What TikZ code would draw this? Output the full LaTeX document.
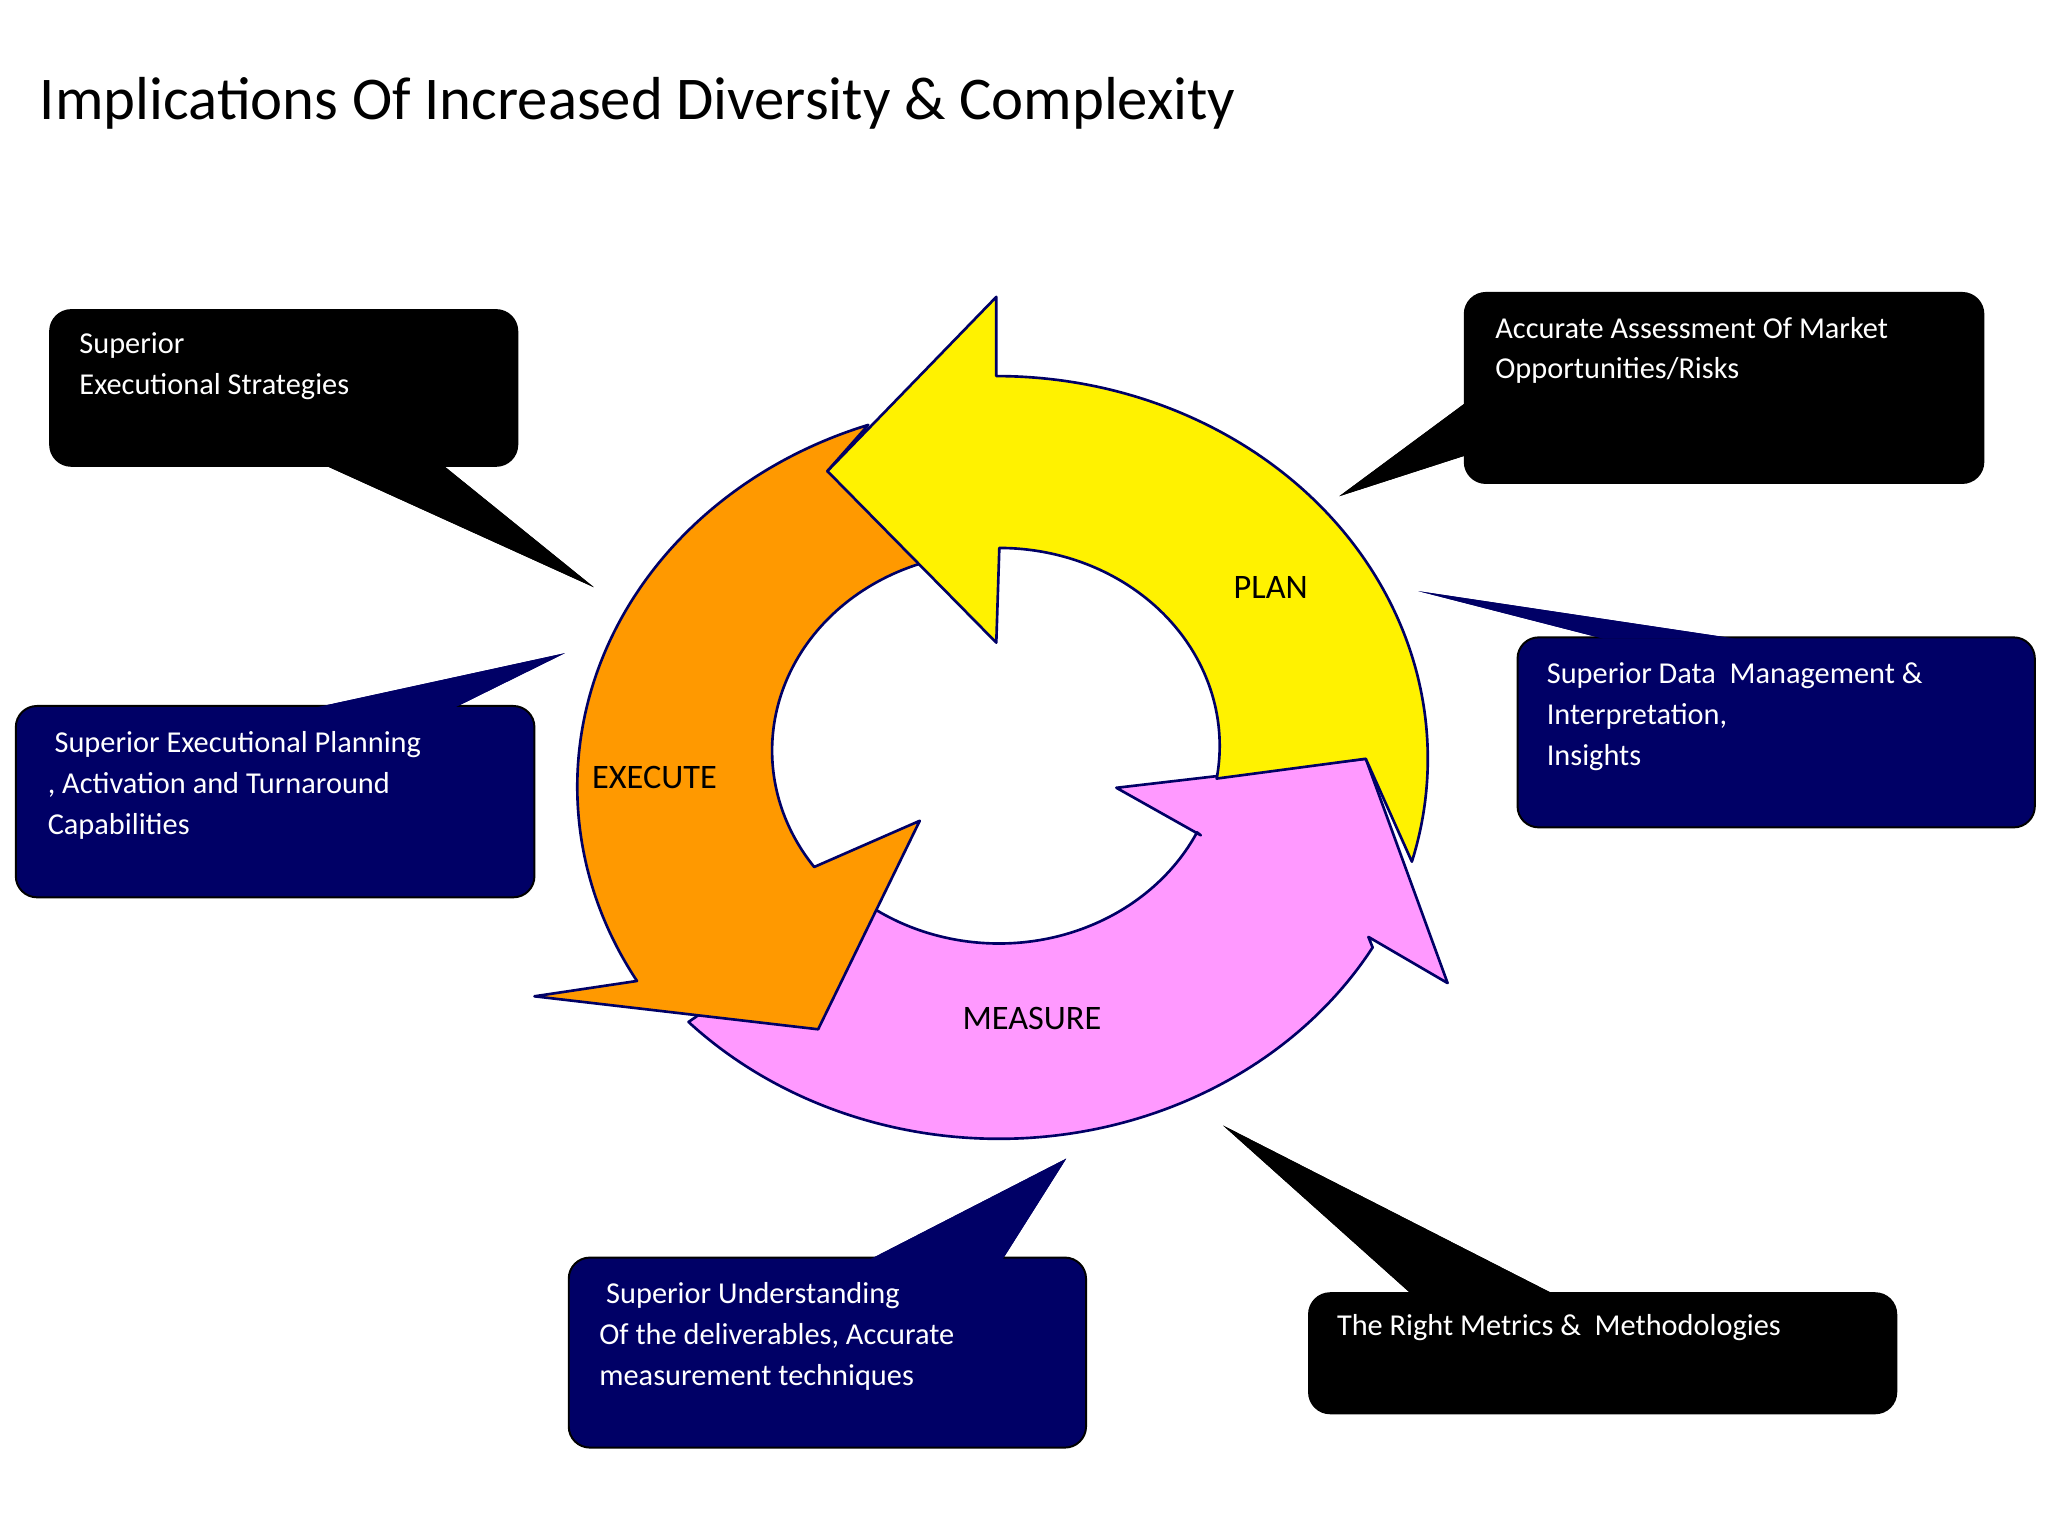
\documentclass[tikz,border=0pt]{standalone}
\usepackage{fontspec}
\setmainfont{Carlito}
\usetikzlibrary{calc}
\begin{document}
\begin{tikzpicture}[x=1pt,y=-1pt,
  arr/.style={draw=blue!40!black, line width=2pt, line join=round},
  txt/.style={text=white, font=\fontsize{23}{31}\selectfont, align=left, anchor=north west, inner sep=0pt},
  lbl/.style={font=\fontsize{26}{30}\selectfont, inner sep=0pt},
  box/.style={rounded corners=16pt, line width=1.5pt},
  blk/.style={fill=black, draw=black},
  nvy/.style={fill=navybox, draw=black}
]
\definecolor{navybox}{HTML}{000066}
\definecolor{plum}{HTML}{FF99FF}
\definecolor{orng}{HTML}{FF9900}
\useasboundingbox (0,0) rectangle (1552,1164);
\fill[white] (0,0) rectangle (1552,1164);

\node[anchor=west, font=\fontsize{46}{50}\selectfont, inner sep=0pt] (title) at (30,78)
  {Implications Of Increased Diversity \& Complexity};

% MEASURE arrow (drawn first, tail under orange)
\draw[arr, fill=plum] (910,633) -- (846,597) -- (1035,575) -- (1097,745) -- (1037,710)
  -- ($(757,573)+(30:327 and 290)$) arc[start angle=30, end angle=136, x radius=327, y radius=290]
  -- ($(757,565)+(128:167 and 150)$) arc[start angle=128, end angle=26, x radius=167, y radius=150]
  -- cycle;

% EXECUTE arrow
\draw[arr, fill=orng] (658,322) arc[start angle=251, end angle=149.5, x radius=327, y radius=290]
  -- (405,755) -- (620,780) -- (697,622) -- (617,657)
  arc[start angle=144, end angle=252, x radius=167, y radius=150]
  -- (627,357) -- cycle;

% PLAN arrow
\draw[arr, fill=yellow] (755,285) arc[start angle=-90, end angle=15.6, x radius=327, y radius=290]
  -- (1035,575) -- (922,590)
  arc[start angle=9.5, end angle=-90, x radius=167, y radius=150]
  -- (755,487) -- (627,357) -- (755,225) -- cycle;

\node[lbl] (plan) at (963,445) {PLAN};
\node[lbl] (execute) at (496,589) {EXECUTE};
\node[lbl] (measure) at (782,772) {MEASURE};

% callouts
\newcommand{\callout}[3]{%
  \fill[#1, draw=none] #3;
  \draw[#1, box] #2;
  \fill[#1, draw=none] #3;
}
\callout{blk}{(38,235) rectangle (392,353)}{(245,352) -- (450,445) -- (335,352) -- cycle}
\callout{nvy}{(12,535) rectangle (405,680)}{(240,536) -- (428,495) -- (345,536) -- cycle}
\callout{blk}{(1110,222) rectangle (1503,366)}{(1111,305) -- (1015,376) -- (1111,345) -- cycle}
\callout{nvy}{(1150,483) rectangle (1542,627)}{(1215,484) -- (1075,448) -- (1315,484) -- cycle}
\callout{nvy}{(431,953) rectangle (823,1097)}{(660,954) -- (808,878) -- (760,954) -- cycle}
\callout{blk}{(992,980) rectangle (1437,1071)}{(1070,981) -- (927,853) -- (1178,981) -- cycle}

\node[txt] (t1) at (60,252) {Superior\\Executional Strategies};
\node[txt] (t2) at (36,554) {\ Superior Executional Planning\\, Activation and Turnaround\\Capabilities};
\node[txt] (t3) at (1133,240) {Accurate Assessment Of Market\\Opportunities/Risks};
\node[txt] (t4) at (1172,502) {Superior Data\ \ Management \&\\Interpretation,\\Insights};
\node[txt] (t5) at (454,972) {\ Superior Understanding\\Of the deliverables, Accurate\\measurement techniques};
\node[txt] (t6) at (1013,996) {The Right Metrics \&\ \ Methodologies};
\end{tikzpicture}
\end{document}
